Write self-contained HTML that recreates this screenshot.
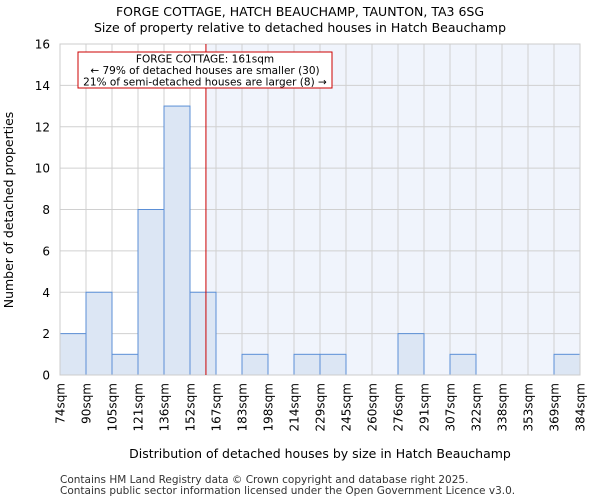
<!DOCTYPE html>
<html><head><meta charset="utf-8"><style>
body{margin:0;background:#fff;font-family:"DejaVu Sans","Liberation Sans",sans-serif}
</style></head><body>
<svg id="chart" width="600" height="500" xmlns="http://www.w3.org/2000/svg" font-family="DejaVu Sans, Liberation Sans, sans-serif">
<text x="300" y="16" text-anchor="middle" font-size="12.5">FORGE COTTAGE, HATCH BEAUCHAMP, TAUNTON, TA3 6SG</text>
<text x="300" y="32" text-anchor="middle" font-size="12.5">Size of property relative to detached houses in Hatch Beauchamp</text>
<g id="plot"></g>
<text x="320" y="458" text-anchor="middle" font-size="12.5">Distribution of detached houses by size in Hatch Beauchamp</text>
<text transform="translate(13,210) rotate(-90)" text-anchor="middle" font-size="12.5">Number of detached properties</text>
<text x="60" y="483" font-size="10.5" fill="#333">Contains HM Land Registry data © Crown copyright and database right 2025.</text>
<text x="60" y="494" font-size="10.5" fill="#333">Contains public sector information licensed under the Open Government Licence v3.0.</text>
</svg>
<script>
const binLabels=["74sqm","90sqm","105sqm","121sqm","136sqm","152sqm","167sqm","183sqm","198sqm","214sqm","229sqm","245sqm","260sqm","276sqm","291sqm","307sqm","322sqm","338sqm","353sqm","369sqm","384sqm"];
const binStarts=[74,89.5,105,120.5,136,151.5,167,182.5,198,213.5,229,244.5,260,275.5,291,306.5,322,337.5,353,368.5,384];
const counts=[2,4,1,8,13,4,0,1,0,1,1,0,0,2,0,1,0,0,0,1];
const yTicks=[0,2,4,6,8,10,12,14,16];
const markerValue=161;
const NS="http://www.w3.org/2000/svg";
const L=60,R=580,T=44,B=375;
const xMin=binStarts[0],xMax=binStarts[binStarts.length-1];
const xs=v=>L+(v-xMin)/(xMax-xMin)*(R-L);
const ys=v=>B-v/16*(B-T);
const g=document.getElementById('plot');
function mk(t,a){const e=document.createElementNS(NS,t);for(const k in a)e.setAttribute(k,a[k]);g.appendChild(e);return e;}
let e;
e=mk('rect',{x:xs(markerValue),y:T,width:R-xs(markerValue),height:B-T,fill:'#f0f4fc'});


binStarts.forEach(v=>{e=mk('line',{x1:xs(v),x2:xs(v),y1:T,y2:B,stroke:'#d0d0d0','stroke-width':1});

});
yTicks.forEach(v=>{e=mk('line',{x1:L,x2:R,y1:ys(v),y2:ys(v),stroke:'#d0d0d0','stroke-width':1});


e=mk('text',{x:L-10,y:ys(v)+4.5,'text-anchor':'end','font-size':12});e.textContent=v;

});
counts.forEach((c,i)=>{if(c<=0)return;const x0=xs(binStarts[i]),x1=xs(binStarts[i+1]);
e=mk('rect',{x:x0,y:ys(c),width:x1-x0,height:ys(0)-ys(c),fill:'#dce6f4',stroke:'#5b8fd6','stroke-width':1});

});
binLabels.forEach((l,i)=>{const x=xs(binStarts[i]);
e=mk('text',{transform:`translate(${x+4.5},${B+8}) rotate(-90)`,'text-anchor':'end','font-size':12});e.textContent=l;

});
e=mk('rect',{x:L,y:T,width:R-L,height:B-T,fill:'none',stroke:'#ccc'});


e=mk('line',{x1:xs(markerValue),x2:xs(markerValue),y1:T,y2:B,stroke:'#cc0000','stroke-width':1});


e=mk('rect',{x:78,y:52,width:254,height:36,fill:'#fff',stroke:'#cc0000','stroke-width':1});


["FORGE COTTAGE: 161sqm","← 79% of detached houses are smaller (30)","21% of semi-detached houses are larger (8) →"].forEach((s,i)=>{
e=mk('text',{x:205,y:62.5+i*11.5,'text-anchor':'middle','font-size':10.5});e.textContent=s;

});
</script>
</body></html>
